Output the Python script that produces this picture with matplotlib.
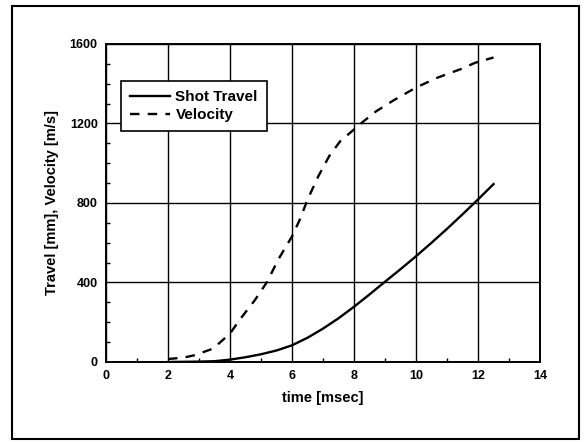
import matplotlib.pyplot as plt
from matplotlib.patches import Rectangle
from matplotlib.ticker import MultipleLocator

plt.rcParams['font.family'] = ['Liberation Sans', 'DejaVu Sans']

# shot travel [mm] vs time [msec]
time_travel = [2.0, 3.0, 3.5, 4.0, 4.5, 5.0, 5.5, 6.0, 6.5, 7.0, 7.5, 8.0, 8.5,
               9.0, 9.5, 10.0, 10.5, 11.0, 11.5, 12.0, 12.5]
travel = [0, 2, 4, 12, 24, 39, 58, 84, 122, 168, 220, 278, 340,
          404, 467, 532, 600, 670, 743, 818, 895]

# velocity [m/s] vs time [msec]
time_vel = [2.0, 2.5, 2.85, 3.45, 4.0, 4.3, 4.8, 5.2, 5.55, 6.0, 6.25, 6.5, 6.85,
            7.2, 7.55, 8.0, 8.3, 8.7, 9.25, 10.0, 10.7, 11.45, 11.9, 12.5]
velocity = [15, 22, 34, 67, 143, 210, 311, 404, 514, 632, 716, 817, 935,
            1036, 1110, 1170, 1210, 1260, 1314, 1381, 1431, 1474, 1505, 1532]

fig = plt.figure(figsize=(5.87, 4.42), dpi=100)
ax = fig.add_axes([0.1806, 0.181, 0.7394, 0.7195])

ax.plot(time_travel, travel, color='black', lw=1.7, label='Shot Travel')
ax.plot(time_vel, velocity, color='black', lw=1.7, ls=(0, (4, 3.5)), label='Velocity')

ax.set_xlim(0, 14)
ax.set_ylim(0, 1600)
ax.xaxis.set_major_locator(MultipleLocator(2))
ax.xaxis.set_minor_locator(MultipleLocator(1))
ax.yaxis.set_major_locator(MultipleLocator(400))
ax.yaxis.set_minor_locator(MultipleLocator(100))
ax.grid(True, which='major', color='black', lw=1.0)
ax.tick_params(which='both', direction='in', labelsize=9, width=1.0)
ax.tick_params(which='major', length=0, pad=6)
ax.tick_params(which='minor', length=3)
for lbl in ax.get_xticklabels() + ax.get_yticklabels():
    lbl.set_fontweight('bold')
for s in ax.spines.values():
    s.set_linewidth(1.4)

ax.set_xlabel('time [msec]', fontsize=10.5, fontweight='bold', labelpad=6)
ax.set_ylabel('Travel [mm], Velocity [m/s]', fontsize=10.5, fontweight='bold', labelpad=8)

leg = ax.legend(loc='upper left', bbox_to_anchor=(0.035, 0.884),
                prop={'size': 11, 'weight': 'bold'},
                frameon=True, fancybox=False, edgecolor='black', borderaxespad=0,
                handlelength=2.6, handletextpad=0.35, borderpad=0.6, labelspacing=0.25)
leg.get_frame().set_linewidth(1.2)
leg.get_frame().set_alpha(1)

# outer border around the whole figure
fig.patches.append(Rectangle((12 / 587, 3 / 442), 567 / 587, 433 / 442,
                             transform=fig.transFigure, fill=False,
                             edgecolor='black', lw=1.5))

fig.savefig('out.png', dpi=100)
